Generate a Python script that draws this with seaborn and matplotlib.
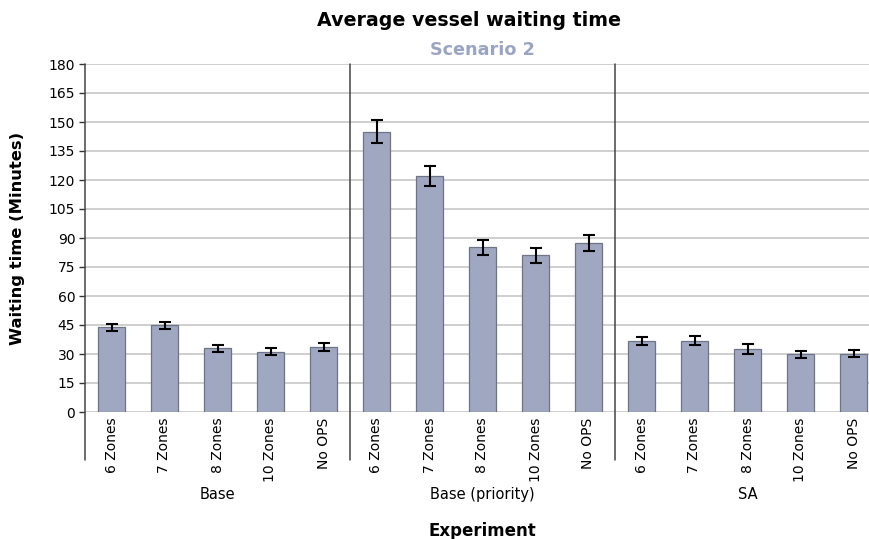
import matplotlib
matplotlib.use("Agg")
import matplotlib.pyplot as plt
import matplotlib.transforms as mtransforms
import numpy as np
import pandas as pd
import seaborn as sns

# Experiment groups and the zone configurations within each
groups = ["Base", "Base (priority)", "SA"]
configs = ["6 Zones", "7 Zones", "8 Zones", "10 Zones", "No OPS"]

# Mean waiting time (minutes) and half-width of the error bar
base_mean = [43.8, 44.8, 32.9, 31.2, 33.8]
base_err = [1.9, 1.9, 1.7, 1.7, 2.0]
prio_mean = [145.0, 122.3, 85.2, 81.0, 87.2]
prio_err = [5.9, 5.2, 3.8, 3.8, 4.1]
sa_mean = [36.6, 36.9, 32.6, 29.8, 30.2]
sa_err = [2.1, 2.3, 2.4, 2.0, 2.0]

y_ticks = list(range(0, 181, 15))

means = base_mean + prio_mean + sa_mean
errs = base_err + prio_err + sa_err
keys = [f"{g}|{c}" for g in groups for c in configs]
df = pd.DataFrame({"key": keys, "wait": means, "err": errs})

sns.set_theme(style="white")
plt.rcParams["font.family"] = ["DejaVu Sans"]
plt.rcParams["text.color"] = "black"
plt.rcParams["xtick.color"] = "black"
plt.rcParams["ytick.color"] = "black"
plt.rcParams["xtick.labelcolor"] = "black"
plt.rcParams["ytick.labelcolor"] = "black"

fig = plt.figure(figsize=(8.7, 5.39), dpi=100)
ax = fig.add_axes([85 / 870, 127 / 539, 795 / 870, 348 / 539])

ax.yaxis.grid(True, color="#cccccc", linewidth=1.3, zorder=0)
ax.set_axisbelow(True)

sns.barplot(data=df, x="key", y="wait", order=keys, color="#a0a7c1",
            saturation=1, width=0.5, edgecolor="#6e7386", linewidth=0.9,
            errorbar=None, ax=ax, zorder=2)

xpos = np.arange(len(keys))
ax.errorbar(xpos, df["wait"], yerr=df["err"], fmt="none", ecolor="black",
            elinewidth=1.5, capsize=4, capthick=1.5, zorder=3)

ax.set_xlim(-0.5, len(keys) - 0.5)
ax.set_ylim(0, 180)
ax.set_yticks(y_ticks)
ax.tick_params(axis="y", which="both", left=True, length=4, width=1,
               color="#333333", labelsize=10, pad=3, labelcolor="black")
ax.set_xticks(xpos)
ax.set_xticklabels([c for g in groups for c in configs], rotation=90,
                   fontsize=10, va="top")
ax.tick_params(axis="x", length=0, pad=4, labelcolor="black")

for side in ["top", "right", "bottom", "left"]:
    ax.spines[side].set_visible(False)

trans = mtransforms.blended_transform_factory(ax.transData, ax.transAxes)
# Left axis line and group separators, extending below the plot area
for xv in [-0.5, 4.5, 9.5]:
    ax.plot([xv, xv], [-0.138, 1.0], transform=trans, color="#444444",
            linewidth=1.1, clip_on=False, zorder=4)

# Group labels under the rotated tick labels
for i, g in enumerate(groups):
    ax.text(i * 5 + 2, -0.236, g, transform=trans, ha="center", va="center",
            fontsize=10.5, color="black")

ax.set_xlabel("")
ax.set_ylabel("")
fig.text(482 / 870, 1 - 531 / 539, "Experiment", ha="center", va="center",
         fontsize=12, fontweight="bold", color="black")
fig.text(18 / 870, 1 - 238 / 539, "Waiting time (Minutes)", rotation=90,
         ha="center", va="center", fontsize=11.8, fontweight="bold",
         color="black")
fig.text(469 / 870, 1 - 20 / 539, "Average vessel waiting time",
         ha="center", va="center", fontsize=13.7, fontweight="bold",
         color="black")
fig.text(482 / 870, 1 - 50 / 539, "Scenario 2", ha="center", va="center",
         fontsize=12.7, fontweight="bold", color="#9aa5c4")

fig.savefig("out.png", dpi=100)
